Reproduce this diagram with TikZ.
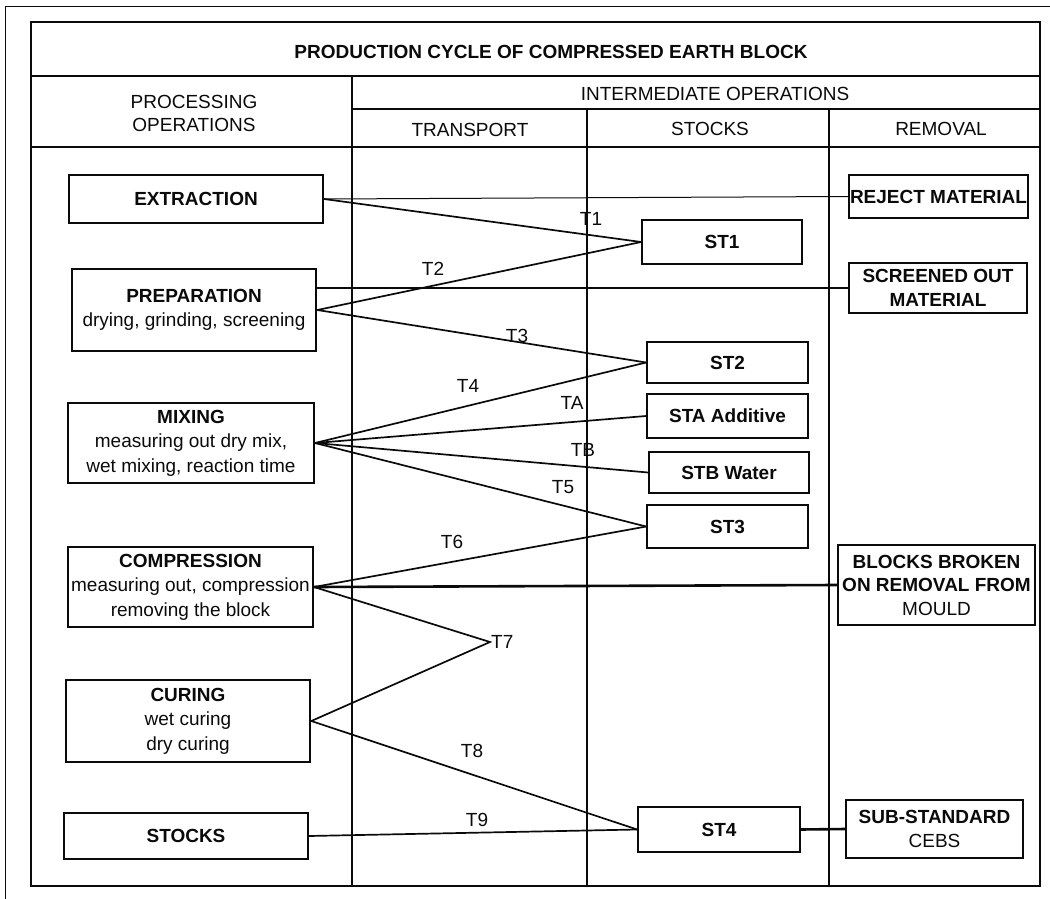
\documentclass[tikz,border=0pt]{standalone}
\usepackage{fontspec}
\setmainfont{Liberation Sans}
\usetikzlibrary{positioning, calc}
\definecolor{scanink}{RGB}{10, 10, 10}

\begin{document}
\begin{tikzpicture}[x=1pt, y=-1pt, draw=scanink, text=scanink,
    every node/.style={font=\fontsize{19}{24.5}\selectfont, inner sep=1pt},
    procbox/.style={draw, line width=2pt, align=center},
    stockbox/.style={draw, line width=1.8pt, align=center, font=\fontsize{19}{24.5}\selectfont\bfseries},
    removebox/.style={draw, line width=1.8pt, align=center, inner sep=0pt, font=\fontsize{19}{23.5}\selectfont\bfseries},
    tlabel/.style={inner sep=0pt},
    link/.style={line width=1.7pt},
    heavylink/.style={line width=2.6pt},
    rule/.style={line width=2.2pt}]
    \useasboundingbox (0,0) rectangle (1050,899);

    % frame and table
    \draw[line width=0.8pt] (1050,6) -- (5,6) -- (5,899);
    \draw[rule] (31,22) rectangle (1040,886);
    \draw[rule] (31,76) -- (1040,76);
    \draw[rule] (352,109) -- (1040,109);
    \draw[rule] (31,147) -- (1040,147);
    \draw[rule] (352,76) -- (352,886);
    \draw[rule] (587,109) -- (587,886);
    \draw[line width=1.1pt] (829,109) -- (829,886);

    % headings
    \node[font=\fontsize{19}{24.5}\selectfont\bfseries] (title) at (551,52) {PRODUCTION CYCLE OF COMPRESSED EARTH BLOCK};
    \node[align=center, font=\fontsize{19}{23}\selectfont] (prochead) at (194,113) {PROCESSING\\OPERATIONS};
    \node (interhead) at (715,94) {INTERMEDIATE OPERATIONS};
    \node (transhead) at (470,130) {TRANSPORT};
    \node (stockhead) at (710,129) {STOCKS};
    \node (removehead) at (941,129) {REMOVAL};

    % processing operations
    \node[procbox, minimum width=254pt, minimum height=48pt] (extraction) at (196,199) {\textbf{EXTRACTION}};
    \node[procbox, line width=2.6pt, minimum width=244pt, minimum height=82pt] (preparation) at (194,310) {\textbf{PREPARATION}\\drying, grinding, screening};
    \node[procbox, minimum width=246pt, minimum height=80pt] (mixing) at (191,443) {\textbf{MIXING}\\measuring out dry mix,\\wet mixing, reaction time};
    \node[procbox, minimum width=245pt, minimum height=80pt] (compression) at (190.5,587) {\textbf{COMPRESSION}\\measuring out, compression\\removing the block};
    \node[procbox, line width=2.6pt, minimum width=244pt, minimum height=82pt] (curing) at (188,721) {\textbf{CURING}\\wet curing\\dry curing};
    \node[procbox, minimum width=244pt, minimum height=46pt] (stocks) at (186,836) {\textbf{STOCKS}};

    % stocks
    \node[stockbox, minimum width=160pt, minimum height=44pt] (st1) at (722,242) {ST1};
    \node[stockbox, minimum width=161pt, minimum height=41pt] (st2) at (727.5,362.5) {ST2};
    \node[stockbox, minimum width=161pt, minimum height=44pt] (sta) at (727.5,416) {STA Additive};
    \node[stockbox, minimum width=160pt, minimum height=41pt] (stb) at (729,472.5) {STB Water};
    \node[stockbox, minimum width=161pt, minimum height=43pt] (st3) at (727.5,526.5) {ST3};
    \node[stockbox, minimum width=162pt, minimum height=45pt] (st4) at (719,829.5) {ST4};

    % removal
    \node[removebox, minimum width=179pt, minimum height=43pt] (reject) at (938.5,196.5) {REJECT MATERIAL};
    \node[removebox, minimum width=178pt, minimum height=50pt] (screened) at (938,288) {SCREENED OUT\\MATERIAL};
    \node[removebox, minimum width=197pt, minimum height=80pt] (broken) at (936.5,585) {BLOCKS BROKEN\\ON REMOVAL FROM\\{\mdseries MOULD}};
    \node[removebox, minimum width=177pt, minimum height=58pt] (substd) at (934.5,829) {SUB-STANDARD\\{\mdseries CEBS}};

    % transport links
    \coordinate (t7) at (490,642);
    \draw[line width=1pt] (extraction.east) -- (reject.west);
    \draw[link] (extraction.east) -- (st1.west);
    \draw[link] (preparation.east) -- (st1.west);
    \draw[heavylink] (preparation.east |- screened.west) -- (screened.west);
    \draw[link] (preparation.east) -- (st2.west);
    \draw[link] (mixing.east) -- (st2.west);
    \draw[link] (mixing.east) -- (sta.west);
    \draw[link] (mixing.east) -- (stb.west);
    \draw[link] (mixing.east) -- (st3.west);
    \draw[link] (compression.east) -- (st3.west);
    \draw[heavylink] (compression.east) -- (broken.west);
    \draw[link] (compression.east) -- (t7) -- (curing.east);
    \draw[link] (curing.east) -- (st4.west);
    \draw[link] (stocks.east) -- (st4.west);
    \draw[heavylink] (st4.east) -- (substd.west);

    \node[tlabel] (lt1) at (591,219) {T1};
    \node[tlabel] (lt2) at (433,269) {T2};
    \node[tlabel] (lt3) at (517,336) {T3};
    \node[tlabel] (lt4) at (468,386) {T4};
    \node[tlabel] (lta) at (572,403) {TA};
    \node[tlabel] (ltb) at (583,450) {TB};
    \node[tlabel] (lt5) at (563,487) {T5};
    \node[tlabel] (lt6) at (452,542) {T6};
    \node[tlabel, right=1pt of t7] (lt7) {T7};
    \node[tlabel] (lt8) at (472,751) {T8};
    \node[tlabel] (lt9) at (477,820) {T9};
\end{tikzpicture}
\end{document}
